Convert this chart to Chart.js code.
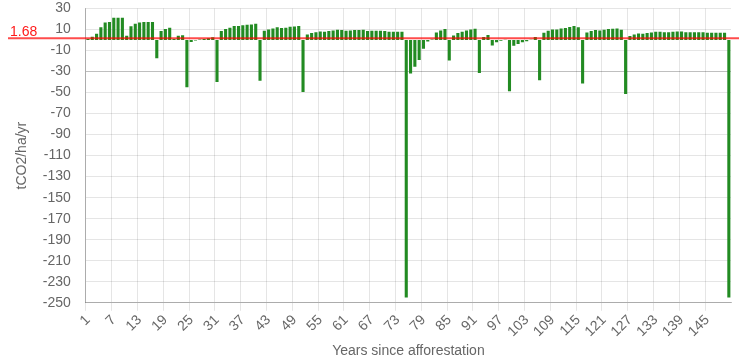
<!DOCTYPE html>
<html>
<head>
<meta charset="utf-8">
<title>Carbon flux since afforestation</title>
<script src="https://cdn.jsdelivr.net/npm/chart.js@4"></script>
<style>
    body { margin: 0; background: #fff; }
    #chart-wrap { width: 745px; height: 361px; }
</style>
</head>
<body>
<div id="chart-wrap"><canvas id="fluxChart"></canvas></div>
<script>
// ---------- Data ----------
const years = [
    1, 2, 3, 4, 5, 6, 7, 8, 9, 10, 11, 12, 13, 14, 15, 16, 17, 18, 19, 20, 21, 22, 23, 24, 25,
    26, 27, 28, 29, 30, 31, 32, 33, 34, 35, 36, 37, 38, 39, 40, 41, 42, 43, 44, 45, 46, 47, 48, 49, 50,
    51, 52, 53, 54, 55, 56, 57, 58, 59, 60, 61, 62, 63, 64, 65, 66, 67, 68, 69, 70, 71, 72, 73, 74, 75,
    76, 77, 78, 79, 80, 81, 82, 83, 84, 85, 86, 87, 88, 89, 90, 91, 92, 93, 94, 95, 96, 97, 98, 99, 100,
    101, 102, 103, 104, 105, 106, 107, 108, 109, 110, 111, 112, 113, 114, 115, 116, 117, 118, 119, 120, 121, 122, 123, 124, 125,
    126, 127, 128, 129, 130, 131, 132, 133, 134, 135, 136, 137, 138, 139, 140, 141, 142, 143, 144, 145, 146, 147, 148, 149, 150
];

// tCO2/ha/yr for each year
const flux = [
    1, 3, 6, 12, 16.5, 17, 21, 21, 21, 4, 13, 15.5, 16.5, 17, 17, 17, -17.5, 8.4, 10.3, 11.6, 1, 4, 4.5, -45, -2,
    -0.5, 0.5, 1, 1.5, 2.5, -40, 8.4, 10.3, 11.6, 13.2, 13.2, 13.9, 14.5, 14.8, 15.5, -38.7, 8.7, 10, 11, 12, 11.3, 11.6, 12.6, 12.9, 13.2,
    -49.4, 5.2, 6.5, 7.4, 8, 7.7, 8.4, 9, 9.7, 9.4, 8.7, 9, 9.4, 9.4, 9.7, 8.4, 8.7, 8.7, 8.7, 8.4, 7.7, 7.7, 7.7, 7.7, -245,
    -32, -25.5, -19, -8.4, -1.5, 0.5, 7, 9, 10.3, -19.5, 4.2, 6.5, 7.7, 9, 10, 10.6, -31.5, 2.7, 4.6, -5.2, -2.3, -0.7, 0.3, -48.7, -5.5,
    -3.8, -2.3, -1.2, 0.3, 2.9, -38.4, 6.8, 8.8, 10, 10, 10.8, 11.4, 12.4, 13.2, 12, -41.5, 7, 8.4, 9.4, 9, 9.7, 10.3, 10.6, 10.8, 9.7,
    -51.3, 3.7, 5.2, 6.1, 6, 6.5, 7.1, 7.7, 7.7, 7.4, 7.4, 7.7, 8, 8, 7.4, 7.4, 7.4, 7.4, 7.4, 6.8, 6.8, 6.8, 6.8, 6.8, -245
];

const referenceValue = 1.68;   // red line
const yMin = -250;
const yMax = 30;
const yStep = 20;
const labelEvery = 6;          // 1, 7, 13, ... 145
const darkGridValue = -30;

document.addEventListener("DOMContentLoaded", function () {
    Chart.defaults.font.family = "Arial, 'Liberation Sans', sans-serif";
    Chart.defaults.font.size = 14;
    Chart.defaults.color = '#666';

    // ---------- Reference line plugin ----------
    const referenceLine = {
        id: 'referenceLine',
        afterDatasetsDraw(chart) {
            const { ctx, chartArea, scales } = chart;
            const y = scales.y.getPixelForValue(referenceValue);
            ctx.save();
            ctx.strokeStyle = 'rgba(255, 0, 0, 0.7)';
            ctx.lineWidth = 2;
            ctx.beginPath();
            ctx.moveTo(8, y);
            ctx.lineTo(chartArea.right + 8, y);
            ctx.stroke();
            ctx.fillStyle = 'rgba(255, 0, 0, 0.9)';
            ctx.font = "14px Arial, 'Liberation Sans', sans-serif";
            ctx.textBaseline = 'bottom';
            ctx.fillText(String(referenceValue), 10, y + 1);
            ctx.restore();
        }
    };

    const ctx = document.getElementById('fluxChart').getContext('2d');
    new Chart(ctx, {
        type: 'bar',
        data: {
            labels: years,
            datasets: [{
                label: 'tCO2/ha/yr',
                data: flux,
                backgroundColor: 'rgb(34, 139, 34)',
                borderWidth: 0
            }]
        },
        options: {
            responsive: true,
            maintainAspectRatio: false,
            animation: false,
            layout: { padding: { left: 10, right: 14, top: 0, bottom: 0 } },
            plugins: {
                legend: { display: false }
            },
            scales: {
                x: {
                    grid: {
                        offset: true,
                        color: c => (c.index % labelEvery === 0 ? 'rgba(0, 0, 0, 0.1)' : 'rgba(0, 0, 0, 0)')
                    },
                    border: { color: 'rgba(0, 0, 0, 0.25)' },
                    ticks: {
                        autoSkip: false,
                        maxRotation: 45,
                        minRotation: 45,
                        padding: 1,
                        callback: (value, index) => (index % labelEvery === 0 ? years[index] : '')
                    },
                    title: {
                        display: true,
                        text: 'Years since afforestation',
                        padding: { top: 2, bottom: 1 }
                    }
                },
                y: {
                    min: yMin,
                    max: yMax,
                    grid: {
                        tickLength: 15,
                        tickColor: 'rgba(0, 0, 0, 0)',
                        color: c => (c.tick && c.tick.value === darkGridValue ? 'rgba(0, 0, 0, 0.25)' : 'rgba(0, 0, 0, 0.1)')
                    },
                    border: { color: 'rgba(0, 0, 0, 0.25)' },
                    ticks: { stepSize: yStep, padding: 0 },
                    title: {
                        display: true,
                        text: 'tCO2/ha/yr',
                        padding: { top: 4, bottom: 12 }
                    }
                }
            }
        },
        plugins: [referenceLine]
    });
});
</script>
</body>
</html>
